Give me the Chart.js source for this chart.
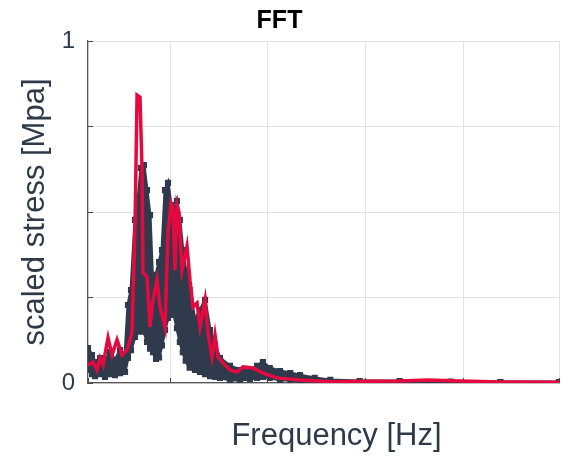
<!DOCTYPE html>
<html>
<head>
<meta charset="utf-8">
<script src="https://cdn.jsdelivr.net/npm/chart.js@4/dist/chart.umd.min.js"></script>
<style>
html,body{margin:0;padding:0;background:#fff;}
canvas{display:block;}
</style>
</head>
<body>
<canvas id="c" width="570" height="458"></canvas>
<script>
// ---- data ----
const xMin = 1.6, xMax = 49.8;
const xGridTicks = [10, 20, 30, 40];
const yTicks = [0, 0.25, 0.5, 0.75, 1];
const yTickLabels = {0: '0', 1: '1'};
const titleText = 'FFT';
const xTitleText = 'Frequency [Hz]';
const yTitleText = 'scaled stress [Mpa]';

// dark (measured) band: frequencies and its upper / lower envelope
const bandX = [1.6,2.01,2.32,2.83,3.34,3.85,4.36,4.88,5.39,5.69,6.0,6.41,6.72,7.02,7.33,7.64,7.95,8.25,8.56,8.87,9.17,9.48,9.79,10.1,10.4,10.7,11.0,11.3,11.6,12.0,12.55,13.06,13.58,14.09,14.6,15.11,16.13,17.16,18.18,18.9,19.5,20.2,21.25,22.3,23.3,24.8,26.4,29.4,33.5,38.7,43.8,49.8];
const bandUpper = [.102,.082,.061,.073,.061,.091,.067,.096,.082,.228,.272,.477,.535,.629,.637,.564,.491,.272,.316,.354,.389,.564,.585,.520,.503,.532,.477,.389,.330,.272,.184,.213,.243,.155,.111,.073,.050,.038,.035,.050,.061,.044,.035,.029,.023,.015,.009,.006,.006,.004,.003,.003];
const bandLower = [.038,.026,.020,.026,.018,.026,.023,.029,.032,.073,.096,.135,.150,.155,.150,.120,.100,.090,.070,.075,.110,.155,.190,.200,.200,.160,.120,.090,.065,.045,.038,.032,.026,.020,.018,.015,.009,.009,.012,.015,.018,.015,.009,.009,.006,.006,.003,.001,.001,.001,.001,.001];

// red (model) line
const redX = [1.6,2.11,2.52,2.83,3.14,3.65,4.06,4.57,5.08,5.59,6.10,6.41,6.62,6.92,7.13,7.23,7.64,7.95,8.25,8.66,8.97,9.48,9.79,10.10,10.30,10.50,10.71,10.91,11.22,11.73,12.04,12.35,12.76,13.06,13.58,13.88,14.29,14.60,14.91,15.42,16.13,16.85,17.46,18.49,19.51,20.94,23.3,26.4,30.0,33.5,36.4,39.7,43.8,49.8];
const redY = [.053,.061,.038,.073,.053,.132,.082,.126,.082,.096,.146,.456,.842,.836,.623,.322,.310,.164,.243,.301,.222,.164,.440,.525,.510,.330,.520,.500,.330,.400,.300,.222,.234,.164,.243,.146,.076,.140,.076,.058,.038,.032,.047,.044,.029,.015,.009,.004,.005,.006,.009,.006,.003,.002];

const DARK = '#2f3b4c';
const RED = '#e5093f';
const TEXT = '#2f3a48';
const FONT = "'Liberation Sans', Arial, Helvetica, sans-serif";

const pts = (xs, ys) => xs.map((x, i) => ({x: x, y: ys[i]}));

// x-axis title, drawn slightly right of the plot centre as in the reference
const xTitlePlugin = {
  id: 'xTitle',
  afterDraw(chart) {
    const {ctx, chartArea} = chart;
    ctx.save();
    ctx.font = '31px ' + FONT;
    ctx.fillStyle = TEXT;
    ctx.textAlign = 'center';
    ctx.textBaseline = 'alphabetic';
    ctx.fillText(xTitleText, (chartArea.left + chartArea.right) / 2 + 13, chartArea.bottom + 62);
    ctx.restore();
  }
};

new Chart(document.getElementById('c'), {
  type: 'line',
  data: {
    datasets: [
      {
        label: 'band lower',
        data: pts(bandX, bandLower),
        borderColor: DARK, backgroundColor: DARK,
        borderWidth: 3, pointStyle: 'rect', pointRadius: 2.2,
        pointBackgroundColor: DARK, pointBorderColor: DARK,
        fill: false, order: 1
      },
      {
        label: 'band upper',
        data: pts(bandX, bandUpper),
        borderColor: DARK, backgroundColor: DARK,
        borderWidth: 3, pointStyle: 'rect', pointRadius: 2.2,
        pointBackgroundColor: DARK, pointBorderColor: DARK,
        fill: 0, order: 1
      },
      {
        label: 'model',
        data: pts(redX, redY),
        borderColor: RED, backgroundColor: RED,
        borderWidth: 3.5, pointRadius: 0, fill: false, order: 0
      }
    ]
  },
  plugins: [xTitlePlugin],
  options: {
    responsive: false,
    animation: false,
    layout: {padding: {left: 0, right: 11, top: 0, bottom: 0}},
    plugins: {
      legend: {display: false},
      tooltip: {enabled: false},
      title: {
        display: true, text: titleText, color: '#000',
        font: {family: FONT, size: 25, weight: 'bold'},
        padding: {top: 6, bottom: 5}
      }
    },
    scales: {
      x: {
        type: 'linear', min: xMin, max: xMax,
        afterBuildTicks: s => { s.ticks = [xMin, ...xGridTicks, xMax].map(v => ({value: v})); },
        afterFit: s => { s.height = 75; s.paddingLeft = 0; s.paddingRight = 0; },
        ticks: {display: false},
        grid: {color: '#e3e3e3', tickColor: '#444', tickLength: -5, drawTicks: true},
        border: {color: '#555', width: 1.2},
        title: {display: false}
      },
      y: {
        type: 'linear', min: 0, max: 1,
        afterBuildTicks: s => { s.ticks = yTicks.map(v => ({value: v})); },
        afterFit: s => { s.width = 88; s.paddingTop = 0; s.paddingBottom = 0; },
        ticks: {
          color: TEXT, font: {family: FONT, size: 24}, padding: 18,
          callback: v => (yTickLabels[v] !== undefined ? yTickLabels[v] : '')
        },
        grid: {color: '#e3e3e3', tickColor: '#444', tickLength: -5, drawTicks: true},
        border: {color: '#555', width: 1.2},
        title: {
          display: true, text: yTitleText, color: TEXT,
          font: {family: FONT, size: 31}, padding: {top: 17, bottom: 0}
        }
      }
    }
  }
});
</script>
</body>
</html>
